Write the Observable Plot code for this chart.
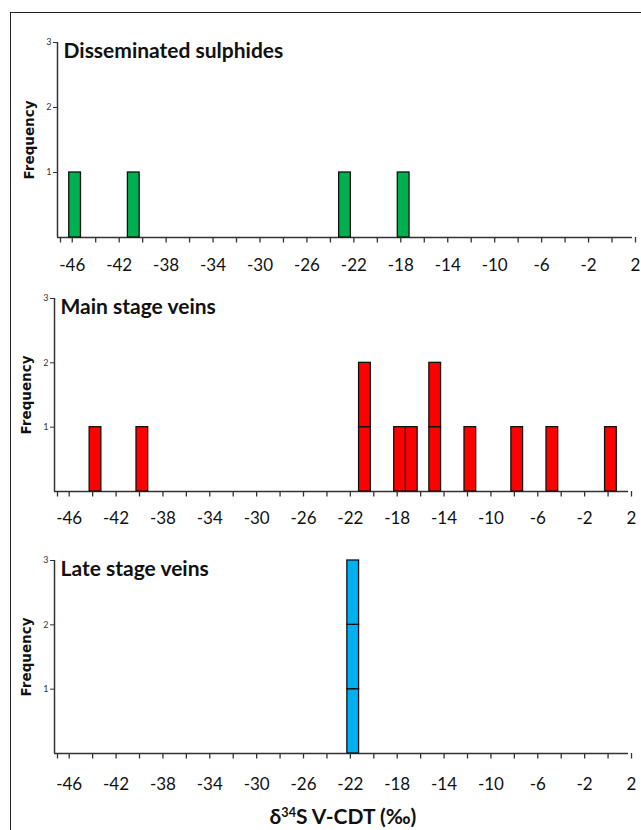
<!DOCTYPE html>
<html><head><meta charset="utf-8">
<script src="https://cdn.jsdelivr.net/npm/d3@7"></script>
<script src="https://cdn.jsdelivr.net/npm/@observablehq/plot@0.6"></script>
<style>
html,body{margin:0;padding:0;background:#fff;overflow:hidden;}
#wrap{position:relative;width:641px;height:830px;overflow:hidden;background:#fff;}
#frame{position:absolute;left:10px;top:12px;width:700px;height:900px;border-left:1.5px solid #222;border-top:1.5px solid #222;}
.panel{position:absolute;left:0;}
#xtitle{position:absolute;left:0;width:686px;top:804px;text-align:center;font-family:Lato,"Liberation Sans",sans-serif;font-weight:bold;font-size:21px;color:#111;line-height:24px;}
#xtitle sup{font-size:0.6em;vertical-align:0.55em;line-height:0;}
</style></head>
<body><div id="wrap"><div id="frame"></div><div id="xtitle">δ<sup>34</sup>S V-CDT (‰)</div></div>
<script>
// ---- data ----
const panelTitles = ["Disseminated sulphides", "Main stage veins", "Late stage veins"];
// each entry = lower bound of a 1‰ bin holding one analysis
const disseminated = [-46, -41, -23, -18];
const mainStage = [-44, -40, -21, -21, -18, -17, -15, -15, -12, -8, -5, 0];
const lateStage = [-22, -22, -22];
const binWidth = 1;
const barColors = ["#00B050", "#FF0000", "#00B0F0"];
const xDomain = [-47, 2];
const xTicks = [-47, -46, -44, -42, -40, -38, -36, -34, -32, -30, -28, -26, -24, -22, -20, -18, -16, -14, -12, -10, -8, -6, -4, -2, 0, 2];
const xLabels = [-46, -42, -38, -34, -30, -26, -22, -18, -14, -10, -6, -2, 2];
const yTicks = [1, 2, 3];
const yLabel = "Frequency";

// ---- layout ----
const layout = [
  {top: 0,   height: 280, mt: 42, mb: 43, ml: 57, mr: 9,  pad: 16},
  {top: 280, height: 260, mt: 18, mb: 49, ml: 54, mr: 13, pad: 15},
  {top: 540, height: 290, mt: 20, mb: 77, ml: 54, mr: 13, pad: 19}
];
const series = [disseminated, mainStage, lateStage];
const axisColor = "#333";
const wrap = document.getElementById("wrap");

series.forEach((obs, i) => {
  const L = layout[i];
  const segs = obs.map(v => ({x1: v, x2: v + binWidth, y: 1}));
  const chart = Plot.plot({
    width: 641, height: L.height,
    marginLeft: L.ml, marginRight: L.mr, marginTop: L.mt, marginBottom: L.mb,
    style: {background: "transparent", overflow: "visible", fontFamily: "Lato, 'Liberation Sans', sans-serif", fontSize: "17px", color: "#111"},
    x: {domain: xDomain},
    y: {domain: [0, 3]},
    marks: [
      Plot.ruleY([0], {stroke: axisColor, strokeWidth: 1.5}),
      Plot.rectY(segs, {x1: "x1", x2: "x2", y: "y", fill: barColors[i], stroke: "#111", strokeWidth: 1.3}),
      Plot.ruleX([xDomain[0]], {y1: 0, y2: 3, stroke: axisColor, strokeWidth: 1.5}),
      Plot.axisX({ticks: xTicks, tickSize: 5.5, tickPadding: L.pad, label: null, stroke: axisColor, strokeWidth: 1.3,
        tickFormat: d => xLabels.includes(d) ? String(d) : "", fontSize: 17, dx: 3}),
      Plot.axisY({ticks: yTicks, tickSize: 4, tickPadding: 2, label: null, stroke: axisColor, strokeWidth: 1,
        tickFormat: d => String(d), fontSize: 9, fill: "#333"}),
      Plot.text([panelTitles[i]], {frameAnchor: "top-left", dx: 6, dy: 15, lineAnchor: "bottom", textAnchor: "start",
        fontWeight: "bold", fontSize: 21, fill: "#111"}),
      Plot.text([yLabel], {frameAnchor: "left", dx: -28, rotate: -90, textAnchor: "middle", lineAnchor: "middle",
        fontWeight: "bold", fontSize: 13.5, fontFamily: "DejaVu Sans", fill: "#111"})
    ]
  });
  chart.classList.add("panel");
  chart.style.top = L.top + "px";
  wrap.appendChild(chart);
});
</script>
</body></html>
